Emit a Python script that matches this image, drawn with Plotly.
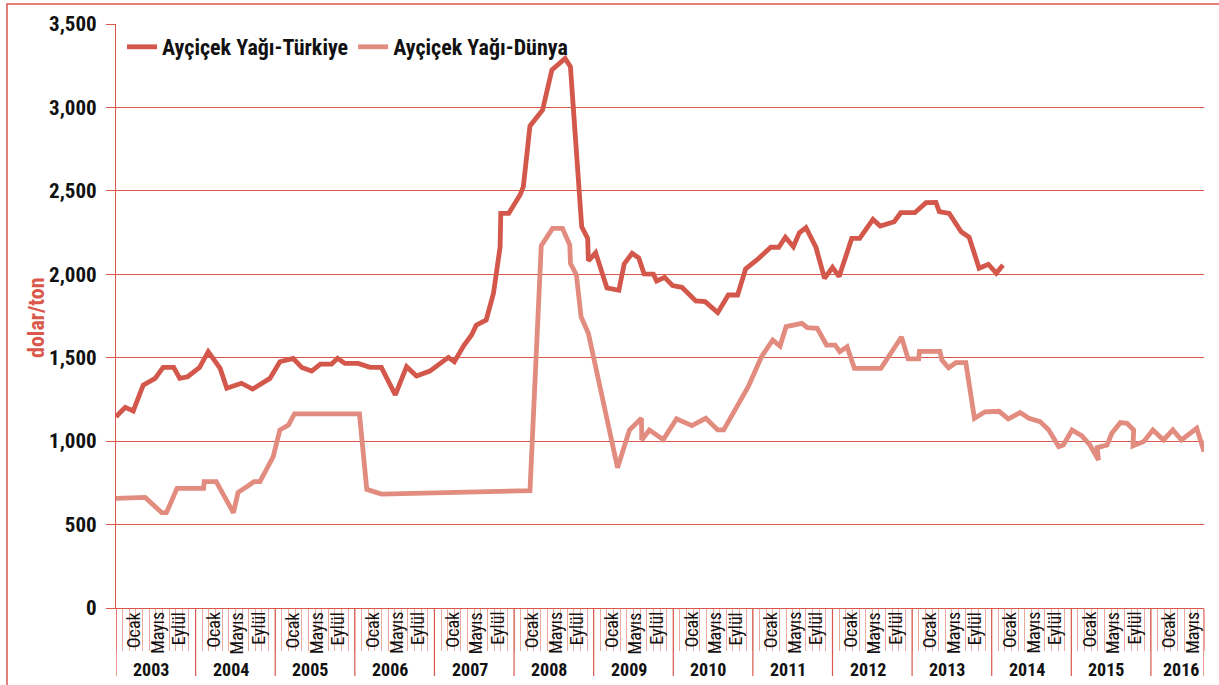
import plotly.graph_objects as go

# ---------------- data (months since Jan 2003, dolar/ton) ----------------
years = [2003, 2004, 2005, 2006, 2007, 2008, 2009, 2010, 2011, 2012, 2013, 2014, 2015, 2016]
month_labels = ["Ocak", "Mayıs", "Eylül"]
series_names = ["Ayçiçek Yağı-Türkiye", "Ayçiçek Yağı-Dünya"]

t_turkiye = [0, 1.4, 2.6, 4.1, 5.9, 7.1, 8.7, 9.6, 10.8, 12.6, 13.9, 15.7, 16.7, 18.9, 20.6,
             23.2, 24.7, 26.7, 28.0, 29.5, 30.8, 32.5, 33.4, 34.5, 36.5, 38.3, 40.0, 42.1,
             43.8, 45.3, 47.3, 50.1, 51.0, 52.4, 53.6, 54.3, 55.8, 56.9, 57.9, 58.0, 59.2,
             60.9, 61.4, 62.4, 64.3, 65.7, 67.7, 68.5, 70.2, 71.1, 71.2, 72.3, 74.0, 75.8,
             76.6, 77.8, 78.8, 79.6, 81.0, 81.5, 82.7, 83.9, 85.3, 87.4, 88.8, 90.7, 92.3,
             93.7, 94.9, 96.6, 98.7, 99.9, 100.9, 102.1, 103.0, 104.0, 105.5, 106.8, 108.0,
             109.0, 110.9, 112.1, 114.1, 115.2, 117.3, 118.3, 120.4, 122.1, 123.6, 124.1,
             125.6, 127.4, 128.6, 130.1, 131.5, 132.7, 133.7]
v_turkiye = [1146, 1203, 1181, 1336, 1376, 1442, 1442, 1376, 1386, 1442, 1536, 1436, 1317, 1347, 1312,
             1376, 1476, 1496, 1442, 1420, 1462, 1462, 1496, 1466, 1466, 1442, 1442, 1277,
             1446, 1390, 1420, 1502, 1476, 1572, 1636, 1695, 1726, 1886, 2165, 2365, 2365,
             2475, 2525, 2889, 2985, 3224, 3294, 3244, 2285, 2215, 2081, 2129, 1918, 1904,
             2062, 2126, 2098, 2003, 2001, 1960, 1982, 1932, 1922, 1840, 1836, 1770, 1876,
             1876, 2032, 2086, 2162, 2162, 2222, 2165, 2249, 2279, 2162, 1976, 2042,
             1986, 2215, 2215, 2329, 2289, 2315, 2369, 2369, 2429, 2431, 2375,
             2365, 2255, 2222, 2036, 2060, 2006, 2056]

t_dunya = [0, 4.4, 6.9, 7.6, 9.2, 13.2, 13.3, 15.1, 17.7, 18.4, 19.7, 20.8, 21.7, 23.7, 24.7,
           26.0, 26.9, 36.7, 37.8, 40.0, 62.4, 64.1, 65.8, 67.3, 68.4, 68.5, 69.4, 70.1, 71.2,
           75.6, 77.4, 79.2, 79.25, 80.4, 82.5, 84.5, 86.8, 88.9, 90.7, 91.6, 95.3, 97.3, 99.0,
           100.1, 101.0, 103.4, 104.2, 105.7, 107.1, 108.4, 109.1, 110.2, 111.3, 115.3, 118.4,
           119.4, 121.0, 121.1, 124.2, 124.5, 125.5, 126.6, 128.1, 129.4, 131.0, 133.1, 134.5,
           136.3, 137.6, 139.3, 140.6, 142.1, 142.8, 144.1, 145.6, 146.8, 148.1, 147.9, 149.4,
           150.1, 151.4, 152.4, 153.4, 153.3, 154.9, 156.3, 157.9, 159.3, 160.6, 162.9, 164.0]
v_dunya = [657, 663, 571, 571, 717, 717, 757, 757, 571, 693, 727, 757, 757, 907, 1067,
           1097, 1163, 1163, 711, 683, 703, 2171, 2275, 2275, 2175, 2066, 1996, 1746, 1646,
           840, 1067, 1137, 1007, 1067, 1009, 1134, 1093, 1137, 1067, 1067, 1326, 1506, 1606,
           1570, 1686, 1706, 1680, 1676, 1576, 1576, 1536, 1566, 1436, 1436, 1624,
           1493, 1493, 1538, 1538, 1486, 1440, 1470, 1470, 1137, 1176, 1179, 1134,
           1171, 1137, 1117, 1067, 967, 977, 1067, 1031, 977, 887, 961, 977,
           1047, 1111, 1107, 1067, 971, 997, 1067, 1007, 1067, 1007, 1077, 937]

y_ticks = [0, 500, 1000, 1500, 2000, 2500, 3000, 3500]
n_months = 164  # Jan 2003 .. Aug 2016

# ---------------- styling ----------------
NARROW = "Roboto Condensed, Open Sans Condensed, DejaVu Sans Condensed, sans-serif"
RED = "#D9584B"
C_TR = "#D3574A"
C_DU = "#E28B7F"
C_TICK = "#EDA8A0"

W, H = 1219, 685
L, R, T, B = 116, 15, 24, 77
pw, ph = W - L - R, H - T - B


def px_x(px):
    return (px - L) / pw


def px_y(py):
    return (H - B - py) / ph


fig = go.Figure()
fig.add_trace(go.Scatter(x=t_turkiye, y=v_turkiye, mode="lines", name=series_names[0],
                         line=dict(color=C_TR, width=4.8)))
fig.add_trace(go.Scatter(x=t_dunya, y=v_dunya, mode="lines", name=series_names[1],
                         line=dict(color=C_DU, width=4.8)))

shapes = []
for k in range(len(years)):
    shapes.append(dict(type="line", xref="x", yref="paper", x0=12 * k, x1=12 * k,
                       y0=0, y1=px_y(676), line=dict(color=RED, width=1.2)))
shapes.append(dict(type="line", xref="x", yref="paper", x0=n_months, x1=n_months,
                   y0=0, y1=px_y(676), line=dict(color=RED, width=1.2)))
shapes.append(dict(type="rect", xref="paper", yref="paper", x0=px_x(7), x1=px_x(1235),
                   y0=px_y(700), y1=px_y(4), line=dict(color=RED, width=1.5)))

annotations = []
month_offsets = [2.6, 6.15, 9.45]
for k, yr in enumerate(years):
    for lab, off in zip(month_labels, month_offsets):
        xm = 12 * k + off
        if xm > n_months - 1:
            continue
        annotations.append(dict(x=xm, y=px_y(610), xref="x", yref="paper", text=lab,
                                textangle=-90, showarrow=False, xanchor="center", yanchor="top",
                                font=dict(family=NARROW, size=18, color="#111111")))
    xc = 12 * k + (5.3 if yr != 2016 else 4.6)
    annotations.append(dict(x=xc, y=px_y(669), xref="x", yref="paper", text=str(yr),
                            showarrow=False, xanchor="center", yanchor="middle",
                            font=dict(family=NARROW, size=18, color="#111111", weight="bold")))
annotations.append(dict(x=px_x(36), y=px_y(318), xref="paper", yref="paper", text="dolar/ton",
                        textangle=-90, showarrow=False, xanchor="center", yanchor="middle",
                        font=dict(family=NARROW, size=22, color=RED, weight="bold")))

fig.update_layout(
    width=W, height=H,
    margin=dict(l=L, r=R, t=T, b=B, autoexpand=False),
    paper_bgcolor="white", plot_bgcolor="white",
    showlegend=True,
    legend=dict(orientation="h", x=px_x(122), xanchor="left", y=px_y(47), yanchor="middle",
                bgcolor="rgba(0,0,0,0)",
                font=dict(family=NARROW, size=22, color="#111111", weight="bold"),
                itemwidth=30),
    xaxis=dict(range=[0, n_months], showgrid=False, zeroline=False,
               showline=True, linecolor=RED, linewidth=1.2,
               tickmode="array", tickvals=list(range(0, n_months + 1)),
               ticks="outside", ticklen=42, tickcolor=C_TICK, tickwidth=1,
               showticklabels=False),
    yaxis=dict(range=[0, 3500], tickmode="array", tickvals=y_ticks, tickformat=",",
               showgrid=True, gridcolor=RED, gridwidth=1.2, zeroline=False,
               showline=True, linecolor=RED, linewidth=1.2,
               ticks="outside", ticklen=9, tickcolor=RED, tickwidth=1.2,
               tickfont=dict(family=NARROW, size=21, color="#111111", weight="bold"),
               ticklabelstandoff=5),
    shapes=shapes,
    annotations=annotations,
)

fig.write_html("out.html", config={"displayModeBar": False},
               post_script="document.body.style.margin='0';")
